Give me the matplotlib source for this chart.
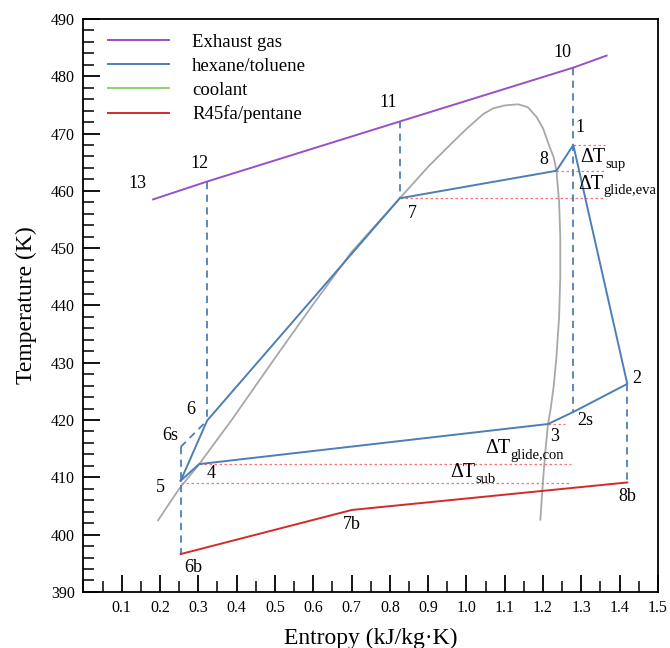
import matplotlib
matplotlib.use("Agg")
import matplotlib.pyplot as plt
from matplotlib.ticker import MultipleLocator, FixedLocator

plt.rcParams['font.family'] = ['Liberation Serif', 'DejaVu Serif']

# Exhaust gas line (13 -> 12 -> 11 -> 10 -> end)
gas_s = [0.182, 0.322, 0.826, 1.279, 1.366]
gas_T = [458.5, 461.6, 472.1, 481.5, 483.6]

# hexane/toluene cycle: 5,6,7,8,1,2,2s,3,4,5
cyc_s = [0.254, 0.323, 0.826, 1.235, 1.279, 1.420, 1.279, 1.213, 0.302, 0.254]
cyc_T = [409.4, 419.9, 458.7, 463.5, 468.0, 426.3, 421.4, 419.3, 412.3, 409.4]

# R45fa/pentane: 6b, 7b, 8b
bot_s = [0.254, 0.701, 1.420]
bot_T = [396.6, 404.3, 409.1]

# saturation dome (gray)
dome_s = [0.195, 0.250, 0.300, 0.387, 0.500, 0.600, 0.700, 0.826, 0.900, 0.960,
          1.000, 1.044, 1.070, 1.100, 1.135, 1.160, 1.183, 1.200, 1.217, 1.228,
          1.235, 1.242, 1.245, 1.245, 1.242, 1.235, 1.228, 1.220, 1.213, 1.206,
          1.200, 1.193]
dome_T = [402.5, 408.0, 412.1, 420.0, 430.8, 440.2, 449.3, 458.7, 464.2, 468.2,
          470.8, 473.4, 474.4, 474.9, 475.1, 474.6, 472.9, 470.9, 467.7, 465.8,
          463.5, 458.0, 452.0, 445.0, 438.0, 431.0, 426.0, 422.0, 419.3, 414.5,
          409.5, 402.6]

# dashed connectors (s0, T0, s1, T1)
dash_segs = [
    (0.254, 415.3, 0.323, 419.9),   # 6s -> 6
    (0.254, 415.3, 0.254, 396.6),   # 6s -> 6b
    (0.322, 461.6, 0.322, 419.9),   # 12 -> 6
    (0.826, 472.1, 0.826, 458.7),   # 11 -> 7
    (1.279, 481.5, 1.279, 421.4),   # 10 -> 2s
    (1.420, 426.3, 1.420, 409.1),   # 2 -> 8b
]

# red dotted level lines (T, s_start, s_end)
levels = [
    (468.0, 1.279, 1.362),
    (463.5, 1.235, 1.364),
    (458.7, 0.826, 1.361),
    (419.3, 1.213, 1.258),
    (412.3, 0.302, 1.274),
    (409.0, 0.254, 1.270),
]

# point labels
labels = ['13', '12', '11', '10', '1', '8', '7', '2', '2s', '3', '8b', '7b', '6b', '5', '4', '6s', '6']
lab_s = [0.140, 0.304, 0.795, 1.251, 1.296, 1.202, 0.860, 1.445, 1.311, 1.230, 1.419, 0.701, 0.286, 0.200, 0.333, 0.226, 0.280]
lab_T = [461.3, 464.8, 475.5, 484.1, 471.1, 465.4, 456.1, 427.3, 419.9, 417.1, 406.7, 401.7, 394.3, 408.3, 410.7, 417.3, 421.9]

# delta-T labels: main text, subscript, position (left, baseline)
delta_main = ['ΔT', 'ΔT', 'ΔT', 'ΔT']
delta_sub = ['sup', 'glide,eva', 'glide,con', 'sub']
delta_s = [1.297, 1.291, 1.048, 0.957]
delta_T = [465.0, 460.4, 414.2, 410.0]

c_gas = '#9a4fc9'
c_blue = '#4c7fb3'
c_green = '#8fd16b'
c_red = '#d42a2a'
c_gray = '#a8a8a8'
c_dot = '#ff7070'

fig = plt.figure(figsize=(6.7, 6.48), dpi=100)
ax = fig.add_axes([0.1245, 0.0866, 0.8575, 0.8842])

ax.plot(dome_s, dome_T, color=c_gray, lw=1.3, zorder=1)
for (T, s0, s1) in levels:
    ax.plot([s0, s1], [T, T], color=c_dot, lw=0.9, ls=(0, (2, 2)), zorder=2)
for (s0, T0, s1, T1) in dash_segs:
    ax.plot([s0, s1], [T0, T1], color=c_blue, lw=1.3, ls=(0, (4, 3)), zorder=2)

ax.plot(gas_s, gas_T, color=c_gas, lw=1.4, label='Exhaust gas', zorder=3)
ax.plot(cyc_s, cyc_T, color=c_blue, lw=1.4, label='hexane/toluene', zorder=3)
ax.plot([], [], color=c_green, lw=1.4, label='coolant')
ax.plot(bot_s, bot_T, color=c_red, lw=1.4, label='R45fa/pentane', zorder=3)

for t, s, T in zip(labels, lab_s, lab_T):
    ax.text(s, T, t, fontsize=13, ha='center', va='center')

ax.set_xlim(0, 1.5)
ax.set_ylim(390, 490)
ax.xaxis.set_major_locator(FixedLocator([0.1 * i for i in range(1, 16)]))
ax.set_xticklabels([f'{0.1 * i:.1f}' for i in range(1, 16)])
ax.xaxis.set_minor_locator(MultipleLocator(0.05))
ax.yaxis.set_major_locator(MultipleLocator(10))
ax.yaxis.set_minor_locator(MultipleLocator(2))
ax.tick_params(which='major', direction='in', length=12, width=1.3, labelsize=11.5, pad=6,
               top=False, right=False)
ax.tick_params(which='minor', direction='in', length=8, width=1.1, top=False, right=False)
for sp in ax.spines.values():
    sp.set_linewidth(1.3)

ax.set_xlabel('Entropy (kJ/kg·K)', fontsize=17, labelpad=8)
ax.set_ylabel('Temperature (K)', fontsize=17, labelpad=10)

ax.legend(loc='upper left', frameon=False, fontsize=13.5, handlelength=3.3,
          handletextpad=1.2, labelspacing=0.36, borderaxespad=0.4,
          bbox_to_anchor=(0.016, 1.0))

# delta labels with manual subscripts
fig.canvas.draw()
renderer = fig.canvas.get_renderer()
for m, sb, s, T in zip(delta_main, delta_sub, delta_s, delta_T):
    t = ax.text(s, T, m, fontsize=14.5, ha='left', va='baseline')
    w = t.get_window_extent(renderer).width * 72.0 / fig.dpi
    ax.annotate(sb, xy=(s, T), xytext=(w + 0.3, -4.0), textcoords='offset points',
                fontsize=10.5, ha='left', va='baseline')

fig.savefig('out.png', dpi=100)
